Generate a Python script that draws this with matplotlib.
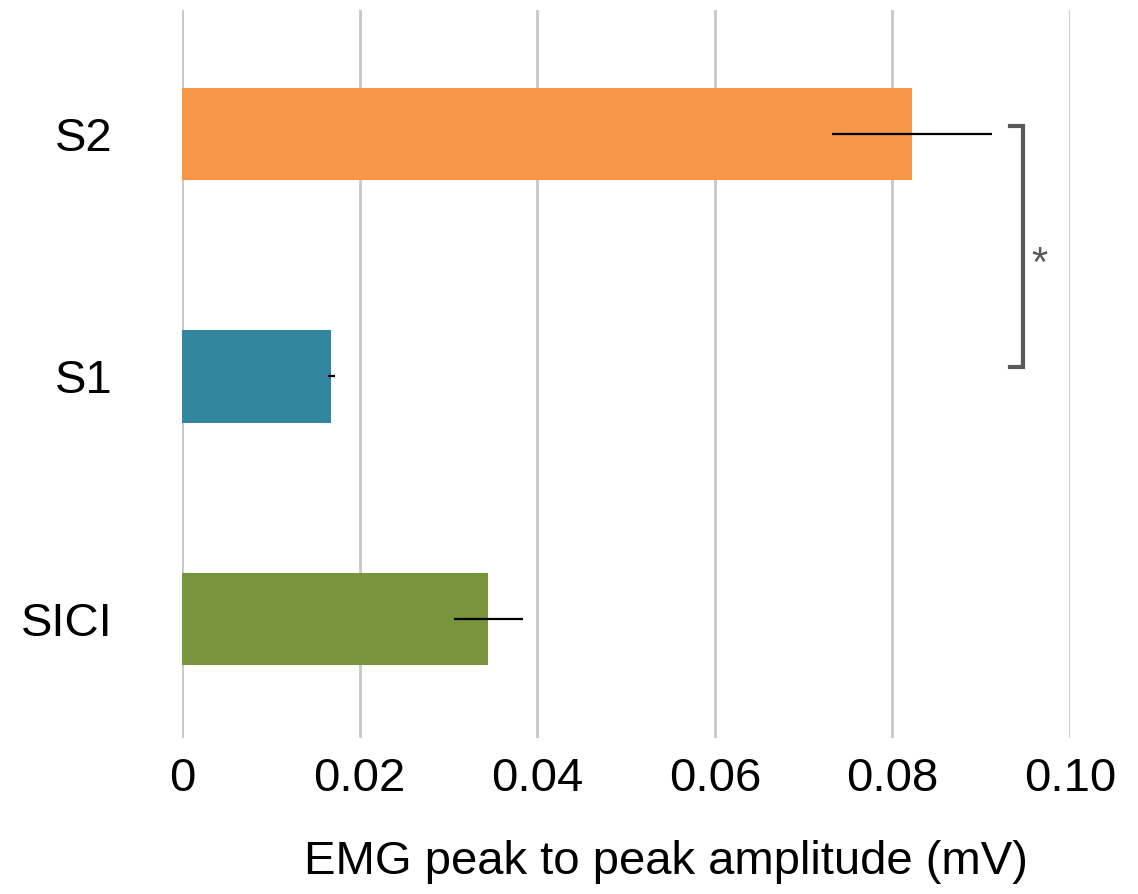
import numpy as np
import matplotlib
matplotlib.use('Agg')
from matplotlib import pyplot as plt

plt.rcParams['font.family'] = ['Liberation Sans', 'DejaVu Sans']

# data (bottom to top)
categories = ['SICI', 'S1', 'S2']
means = [0.0345, 0.0168, 0.0822]
errors = [0.0039, 0.0004, 0.0090]
colors = ['#77933C', '#31859C', '#F79646']

fig = plt.figure(figsize=(11.38, 8.94), dpi=100, facecolor='w')
ax = fig.add_axes([0.16, 0.1745, 0.9403 - 0.16, 0.9888 - 0.1745])

y = np.arange(len(categories))
ax.barh(y, means, height=0.38, color=colors, zorder=2)
ax.errorbar(means, y, xerr=errors, fmt='none', ecolor='black',
            elinewidth=1.6, capsize=0, zorder=3)

ax.set_xlim(0, 0.10)
ax.set_ylim(-0.49, 2.51)
ax.set_xticks(np.arange(0, 0.101, 0.02))
ax.set_xticklabels(['0', '0.02', '0.04', '0.06', '0.08', '0.10'])
ax.set_yticks(y)
ax.set_yticklabels(categories)
ax.tick_params(axis='both', length=0, labelsize=34)
ax.tick_params(axis='x', pad=14)
ax.tick_params(axis='y', pad=50)
ax.grid(axis='x', color='#C8C8C8', linewidth=2, zorder=0)
ax.set_axisbelow(True)
for s in ax.spines.values():
    s.set_visible(False)

# significance bracket between S2 and S1
bx, bt = 0.0947, 0.0932
ax.plot([bt, bx, bx, bt], [2.03, 2.03, 1.04, 1.04], color='#595959',
        linewidth=3, clip_on=False, solid_joinstyle='miter', zorder=4)
ax.text(0.0966, 1.46, '*', color='#595959', fontsize=30, ha='center',
        va='center', clip_on=False)

fig.text(666 / 1138, 1 - 862 / 894, 'EMG peak to peak amplitude (mV)',
         fontsize=34, ha='center', va='center')

plt.savefig('out.png', dpi=100)
